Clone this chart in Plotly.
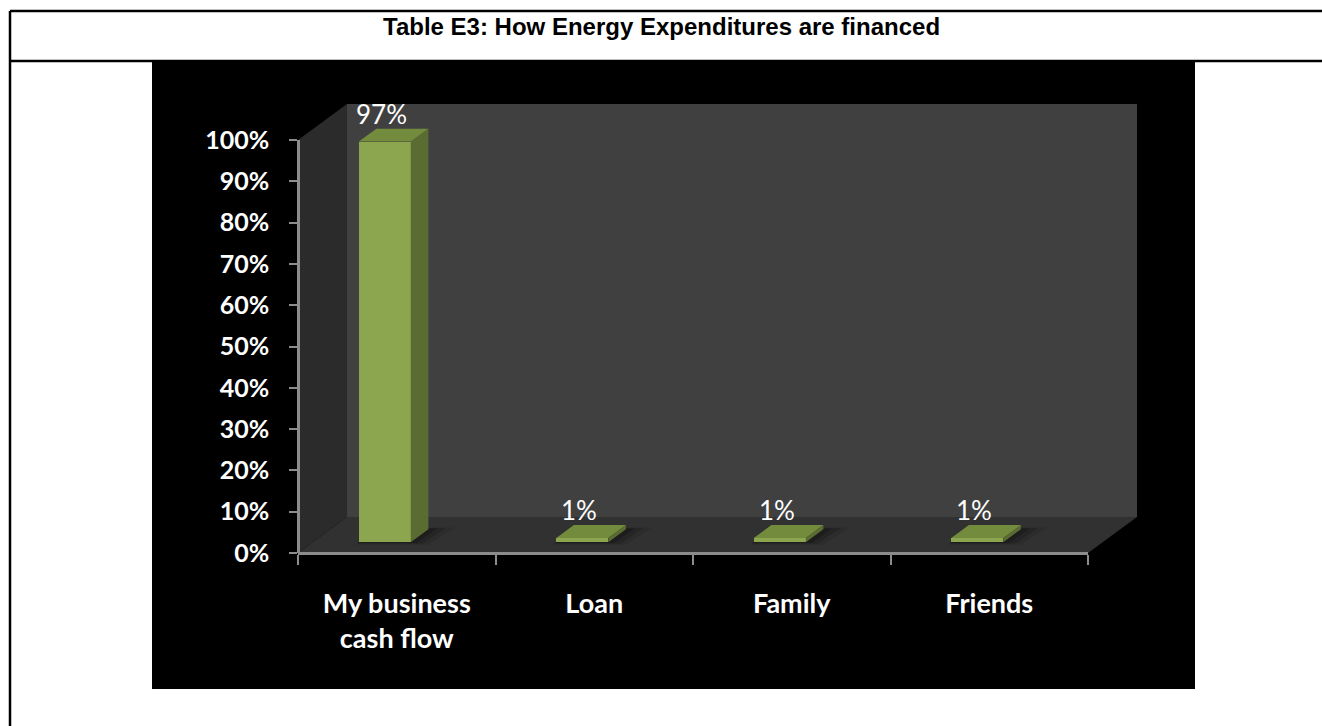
import plotly.graph_objects as go

# ---- data ----
categories = ["My business<br>cash flow", "Loan", "Family", "Friends"]
shares = [97, 1, 1, 1]
value_ticks = [0, 10, 20, 30, 40, 50, 60, 70, 80, 90, 100]
value_tick_text = [f"{t}%" for t in value_ticks]
title_text = "Table E3: How Energy Expenditures are financed"

# ---- page / box geometry (pixels) ----
W, H = 1322, 726
AX_LEFT, AX_RIGHT = 298, 1088      # front edge of the 3-D box
Y0_PX, Y100_PX = 553, 140          # 0 % and 100 % on the front edge
DEPTH_X_PX, DEPTH_Y_PX = 49, 36    # how far the back wall sits behind the front edge

cat_px = (AX_RIGHT - AX_LEFT) / len(categories)
val_px = (Y0_PX - Y100_PX) / 100.0

x_center0 = AX_LEFT + cat_px / 2
x_range = [(0 - x_center0) / cat_px, (W - x_center0) / cat_px]
y_range = [-(H - Y0_PX) / val_px, Y0_PX / val_px]

DX = DEPTH_X_PX / cat_px           # depth vector in axis units
DY = DEPTH_Y_PX / val_px

# columns sit between 30 % and 66 % of the box depth
D_FRONT, D_BACK = 0.30, 0.66
BASE = D_FRONT * DY
BX = (D_BACK - D_FRONT) * DX
BY = (D_BACK - D_FRONT) * DY
BAR_W = 52 / cat_px
HW = BAR_W / 2
FRONT_SHIFT = -12 / cat_px
LABEL_GAP = 15 / val_px

n = len(categories)
L, R = -0.5, n - 0.5

GREEN_FRONT = "#8ba64f"
GREEN_TOP = "#728b3d"
GREEN_SIDE = "#5b6c33"
AXIS_GREY = "#8c8c8c"

fig = go.Figure()


def path_of(xs, ys):
    pts = " L ".join(f"{x},{y}" for x, y in zip(xs, ys))
    return f"M {pts} Z"


def floor_shape(xs, ys, color):
    fig.add_shape(type="path", xref="x", yref="y", layer="below",
                  path=path_of(xs, ys), fillcolor=color, line=dict(width=0))


# black chart area (paper coordinates)
fig.add_shape(type="rect", xref="paper", yref="paper", layer="below",
              x0=152 / W, x1=1195 / W, y0=1 - 689 / H, y1=1 - 62 / H,
              fillcolor="black", line=dict(width=0))

# walls and floor of the 3-D box
floor_shape([L, L, L + DX, L + DX], [0, 100, 100 + DY, DY], "#2b2b2b")
floor_shape([L + DX, R + DX, R + DX, L + DX], [DY, DY, 100 + DY, 100 + DY], "#404040")
floor_shape([L, R, R + DX, L + DX], [0, 0, DY, DY], "#313131")

# soft shadows on the floor around each column footprint
for grow, alpha in [(0.06, 0.10), (0.04, 0.14), (0.02, 0.2)]:
    for i in range(n):
        c = i + FRONT_SHIFT
        gy = grow * 25
        floor_shape(
            [c - HW - grow * 0.3, c + HW + grow * 1.5, c + HW + BX + grow * 2.2, c - HW + BX + grow * 0.2],
            [BASE - gy * 0.4, BASE - gy * 0.4, BASE + BY + gy * 0.3, BASE + BY + gy * 0.3],
            f"rgba(0,0,0,{alpha})")

# column front faces
fig.add_trace(go.Bar(
    x=[i + FRONT_SHIFT for i in range(n)], y=shares, base=[BASE] * n,
    width=BAR_W, marker=dict(color=GREEN_FRONT, line=dict(width=0)),
    hoverinfo="skip", showlegend=False, xaxis="x", yaxis="y"))

# column side and top faces
side_x, side_y, top_x, top_y = [], [], [], []
for i, v in enumerate(shares):
    c = i + FRONT_SHIFT
    side_x += [c + HW, c + HW + BX, c + HW + BX, c + HW, None]
    side_y += [BASE, BASE + BY, BASE + BY + v, BASE + v, None]
    top_x += [c - HW, c + HW, c + HW + BX, c - HW + BX, None]
    top_y += [BASE + v, BASE + v, BASE + v + BY, BASE + v + BY, None]
for xs, ys, col in [(side_x, side_y, GREEN_SIDE), (top_x, top_y, GREEN_TOP)]:
    fig.add_trace(go.Scatter(
        x=xs, y=ys, fill="toself", mode="lines", fillcolor=col,
        line=dict(width=0, color=col), hoverinfo="skip",
        showlegend=False, xaxis="x", yaxis="y"))

# value labels above each column
for i, v in enumerate(shares):
    fig.add_annotation(
        x=i + FRONT_SHIFT, y=v + BASE + BY + LABEL_GAP, xref="x", yref="y",
        text=f"{v}%", showarrow=False, xshift=-3, yanchor="middle",
        font=dict(family="Lato", size=26, color="white"))

# carrier trace for the category / value axes
fig.add_trace(go.Scatter(
    x=categories, y=shares, mode="markers", marker=dict(size=1, opacity=0),
    hoverinfo="skip", showlegend=False, xaxis="x2", yaxis="y2"))

fig.update_layout(
    template="none",
    width=W, height=H, margin=dict(l=0, r=0, t=0, b=0, pad=0, autoexpand=False),
    paper_bgcolor="white", plot_bgcolor="rgba(0,0,0,0)",
    showlegend=False, bargap=0,
    xaxis=dict(range=x_range, domain=[0, 1], visible=False, fixedrange=True, automargin=False),
    yaxis=dict(range=y_range, domain=[0, 1], visible=False, fixedrange=True, automargin=False),
    xaxis2=dict(
        type="category", domain=[AX_LEFT / W, AX_RIGHT / W], anchor="free",
        position=(H - Y0_PX) / H, range=[-0.5, n - 0.5], automargin=False,
        showline=True, linecolor=AXIS_GREY, linewidth=2.5,
        ticks="outside", tickson="boundaries", ticklen=10, tickwidth=2,
        tickcolor=AXIS_GREY, showgrid=False, zeroline=False,
        tickfont=dict(family="Lato", size=27, color="white", weight="bold"),
        ticklabelstandoff=26, fixedrange=True),
    yaxis2=dict(
        domain=[(H - Y0_PX) / H, (H - Y100_PX) / H], anchor="free",
        position=AX_LEFT / W, range=[0, 100], tickmode="array",
        tickvals=value_ticks, ticktext=value_tick_text, automargin=False,
        showline=True, linecolor=AXIS_GREY, linewidth=2.5,
        ticks="outside", ticklen=8, tickwidth=2, tickcolor=AXIS_GREY,
        showgrid=False, zeroline=False,
        tickfont=dict(family="Lato", size=25, color="white", weight="bold"),
        ticklabelstandoff=15, fixedrange=True),
)

# page frame and heading row
for x0, y0, x1, y1 in [(10, 11, W, 11), (10, 61, W, 61), (10, 11, 10, H)]:
    fig.add_shape(type="line", xref="paper", yref="paper", layer="above",
                  x0=x0 / W, x1=x1 / W, y0=1 - y0 / H, y1=1 - y1 / H,
                  line=dict(color="black", width=2.5))

fig.add_annotation(
    x=661 / W, y=1 - 27 / H, xref="paper", yref="paper", showarrow=False,
    text=f"<b>{title_text}</b>", yanchor="middle",
    font=dict(family="Liberation Sans", size=24, color="black"))

fig.write_html("out.html")
